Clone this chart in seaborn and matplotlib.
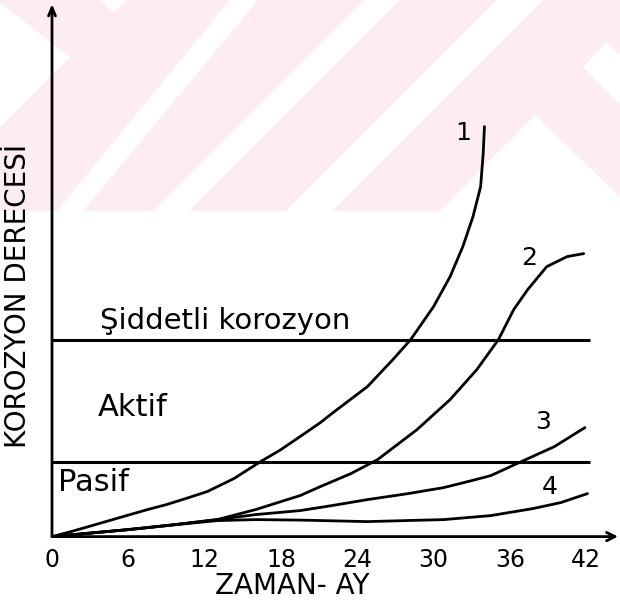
import matplotlib
matplotlib.use("Agg")
import matplotlib.pyplot as plt
import seaborn as sns
import pandas as pd
from matplotlib.patches import Polygon

# ---- data (months vs. corrosion degree, arbitrary units) ----
months_1 = [0, 1.5, 3, 4.5, 6, 7.5, 9, 10.5, 12.2, 14.3, 16.4, 18, 19.5, 21.1, 22.1, 24.8,
            26.8, 28.2, 30.0, 31.3, 32.3, 33.1, 33.7, 33.9, 34.0]
deg_1 = [0, 0.5, 1.05, 1.6, 2.15, 2.7, 3.2, 3.8, 4.5, 5.8, 7.5, 8.7, 10.0, 11.4, 12.4, 15.0,
         17.7, 19.7, 23.0, 26.0, 29.0, 32.0, 35.0, 38.3, 41.0]

months_2 = [0, 3, 6, 9, 13, 16, 19.5, 21.1, 23.5, 25.6, 28.7, 31.3, 33.4, 35.1, 36.3, 37.4,
            38.9, 40.5, 41.8]
deg_2 = [0, 0.35, 0.7, 1.1, 1.7, 2.7, 4.1, 5.0, 6.3, 7.7, 10.7, 13.7, 16.7, 19.7, 22.7, 24.7,
         27.0, 28.0, 28.3]

months_3 = [0, 3, 6, 9, 13, 16, 19.5, 22, 24.8, 28, 30.8, 33, 34.5, 36.9, 39.5, 41.9]
deg_3 = [0, 0.35, 0.7, 1.1, 1.7, 2.2, 2.6, 3.1, 3.7, 4.3, 4.9, 5.6, 6.1, 7.5, 9.0, 10.9]

months_4 = [0, 3, 6, 9, 13, 16, 19.5, 24.8, 30.8, 34.5, 37.8, 40, 42.1]
deg_4 = [0, 0.35, 0.7, 1.1, 1.6, 1.7, 1.65, 1.5, 1.7, 2.1, 2.8, 3.4, 4.3]

curve_names = ["1", "2", "3", "4"]
zone_levels = [7.5, 19.7]
zone_labels = ["Pasif", "Aktif", "Şiddetli korozyon"]
x_ticks = [0, 6, 12, 18, 24, 30, 36, 42]
x_label = "ZAMAN- AY"
y_label = "KOROZYON DERECESİ"

frames = []
for name, xs, ys in zip(curve_names, [months_1, months_2, months_3, months_4],
                        [deg_1, deg_2, deg_3, deg_4]):
    frames.append(pd.DataFrame({"ay": xs, "derece": ys, "egri": name}))
df = pd.concat(frames, ignore_index=True)

sns.set_style("white")
plt.rcParams["font.family"] = ["DejaVu Sans"]
plt.rcParams["text.color"] = "black"
plt.rcParams["xtick.color"] = "black"
plt.rcParams["xtick.labelcolor"] = "black"

W, H = 620, 615
fig = plt.figure(figsize=(W / 100, H / 100), dpi=100)
fig.patch.set_facecolor("white")

def fp(px, py):
    return (px / W, 1 - py / H)

# faint watermark of the scanned page
pink = "#fdedf0"
wm = [
    ([(0, 0), (620, 0), (620, 211), (0, 211)], pink),
    ([(0, 3), (70, 57), (0, 127)], "white"),
    ([(100, 0), (127, 0), (113, 12)], "white"),
    ([(230, 0), (258, 0), (83, 211), (57, 211)], "white"),
    ([(365, 0), (400, 0), (189, 211), (154, 211)], "white"),
    ([(497, 0), (543, 0), (332, 211), (286, 211)], "white"),
    ([(535, 115), (620, 197), (620, 211), (440, 211)], "white"),
    ([(607, 42), (620, 55), (620, 104), (583, 67)], "white"),
]
for pts, col in wm:
    fig.patches.append(Polygon([fp(*p) for p in pts], closed=True, transform=fig.transFigure,
                               facecolor=col, edgecolor="none", zorder=-10))

ax_left, ax_right, ax_bottom_px, ax_top_px = 52, 618, 536.6, 4
ax = fig.add_axes([ax_left / W, (H - ax_bottom_px) / H,
                   (ax_right - ax_left) / W, (ax_bottom_px - ax_top_px) / H])
ax.patch.set_alpha(0)
xmax = 44.5
ymax = (ax_bottom_px - ax_top_px) / 10
ax.set_xlim(0, xmax)
ax.set_ylim(0, ymax)

sns.lineplot(data=df, x="ay", y="derece", hue="egri", palette=["black"] * 4,
             legend=False, linewidth=2.0, ax=ax, estimator=None, sort=False)

ax.hlines(zone_levels, 0, 42.3, colors="black", linewidth=2.2)

for s in ax.spines.values():
    s.set_visible(False)

ax.annotate("", xy=(1, 0), xycoords="axes fraction", xytext=(0, 0),
            arrowprops=dict(arrowstyle="->,head_length=0.6,head_width=0.3", lw=2.0, color="black",
                            shrinkA=0, shrinkB=0))
ax.annotate("", xy=(0, 1), xycoords="axes fraction", xytext=(0, 0),
            arrowprops=dict(arrowstyle="->,head_length=0.6,head_width=0.25", lw=2.0, color="black",
                            shrinkA=0, shrinkB=0))

ax.set_xticks(x_ticks)
ax.set_xticklabels([str(t) for t in x_ticks])
ax.tick_params(axis="x", direction="in", length=7, width=1.8, pad=8, labelsize=17,
               colors="black", labelcolor="black")
ax.set_yticks([])
ax.set_xlabel("")
ax.set_ylabel("")

ax.text(0.5, 5.4, zone_labels[0], fontsize=22, va="center", ha="left")
ax.text(3.6, 12.9, zone_labels[1], fontsize=22, va="center", ha="left")
ax.text(3.8, 21.6, zone_labels[2], fontsize=21, va="center", ha="left")

label_pos = [(32.3, 40.4), (37.5, 27.9), (38.6, 11.5), (39.1, 5.0)]
for name, (lx, ly) in zip(curve_names, label_pos):
    ax.text(lx, ly, name, fontsize=18, va="center", ha="center")

fig.text(292 / W, 1 - 586 / H, x_label, fontsize=20, ha="center", va="center")
fig.text(18 / W, 1 - 296 / H, y_label, fontsize=20, ha="center", va="center", rotation=90)

fig.savefig("out.png", dpi=100)
